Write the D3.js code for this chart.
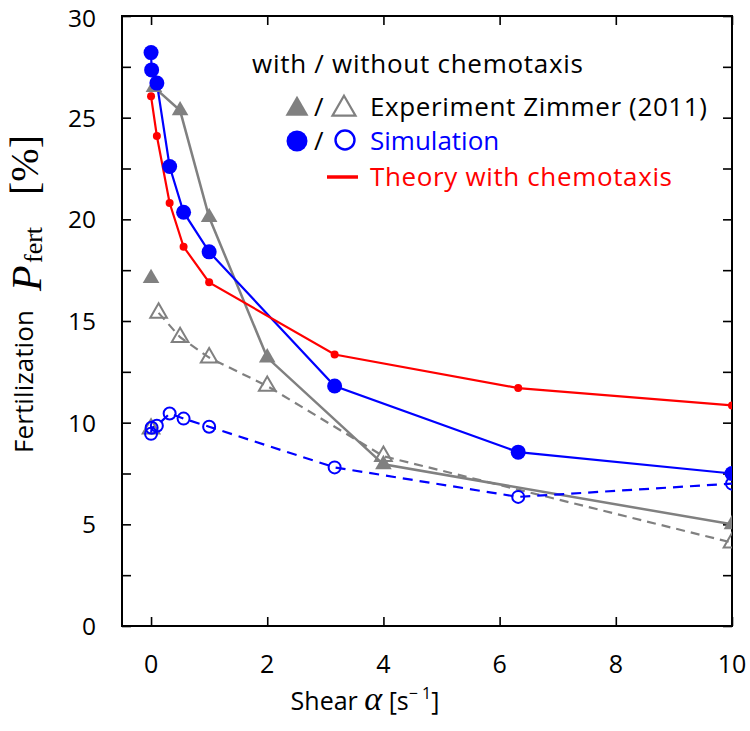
<!DOCTYPE html>
<html><head><meta charset="utf-8">
<script src="https://cdn.jsdelivr.net/npm/d3@7"></script>
<style>body{margin:0;background:#fff}svg{display:block}</style>
</head><body>
<script>
// ---- data ----
const simWithX = [0, 0.01, 0.1, 0.32, 0.56, 1, 3.16, 6.32, 10];
const simWithY = [28.2, 27.35, 26.7, 22.6, 20.35, 18.4, 11.8, 8.55, 7.5];
const simWithoutX = [0, 0.01, 0.1, 0.32, 0.56, 1, 3.16, 6.32, 10];
const simWithoutY = [9.45, 9.75, 9.85, 10.45, 10.2, 9.8, 7.8, 6.35, 7.0];
const expWithX = [0.05, 0.5, 1, 2, 4, 10];
const expWithY = [26.5, 25.35, 20.1, 13.2, 7.95, 5.0];
const expWithoutX = [0.13, 0.5, 1, 2, 4, 10];
const expWithoutY = [15.4, 14.2, 13.2, 11.8, 8.35, 4.1];
const expWithIsoX = [0]; const expWithIsoY = [17.1];
const expWithoutIsoX = [0]; const expWithoutIsoY = [9.7];
const theoryX = [0, 0.1, 0.32, 0.56, 1, 3.16, 6.32, 10];
const theoryY = [26.05, 24.1, 20.8, 18.65, 16.9, 13.35, 11.7, 10.85];
const xTicks = [0, 2, 4, 6, 8, 10];
const yTicks = [0, 2.5, 5, 7.5, 10, 12.5, 15, 17.5, 20, 22.5, 25, 27.5, 30];
const yLabelTicks = [0, 5, 10, 15, 20, 25, 30];

const W = 750, H = 731;
const m = {l:122, t:16, r:18, b:105};
const svg = d3.select("body").append("svg").attr("width", W).attr("height", H);
const x = d3.scaleLinear().domain([-0.5, 10]).range([m.l, W - m.r]);
const y = d3.scaleLinear().domain([0, 30]).range([H - m.b, m.t]);
const font = "'Open Sans', sans-serif";
const serif = "'Liberation Serif', 'DejaVu Serif', serif";
const gray = "#808080", blue = "#0000ff", red = "#ff0000";

svg.append("clipPath").attr("id","clip").append("rect")
  .attr("x", x(-0.5)).attr("y", y(30)-10).attr("width", x(10)-x(-0.5)).attr("height", y(0)-y(30)+10);

// axes (ticks inward, mirrored)
const tl = 9;
const axB = d3.axisBottom(x).tickValues(xTicks).tickSize(-tl).tickFormat("");
const axT = d3.axisTop(x).tickValues(xTicks).tickSize(-tl).tickFormat("");
const axL = d3.axisLeft(y).tickValues(yTicks).tickSize(-tl).tickFormat("");
const axR = d3.axisRight(y).tickValues(yTicks).tickSize(-tl).tickFormat("");
[[axB, `translate(0,${y(0)})`],[axT, `translate(0,${y(30)})`],[axL, `translate(${x(-0.5)},0)`],[axR, `translate(${x(10)},0)`]]
 .forEach(([a,t]) => {
   const g = svg.append("g").attr("transform", t).call(a);
   g.select(".domain").remove();
   g.selectAll("line").attr("stroke","#000").attr("stroke-width",1.6);
 });
svg.append("rect").attr("x", x(-0.5)).attr("y", y(30)).attr("width", x(10)-x(-0.5)).attr("height", y(0)-y(30))
  .attr("fill","none").attr("stroke","#000").attr("stroke-width",2);

// tick labels
svg.append("g").selectAll("text").data(xTicks).join("text")
  .attr("x", d => x(d)).attr("y", y(0) + 47).attr("text-anchor","middle")
  .attr("font-family", font).attr("font-size", 25).text(d => d);
svg.append("g").selectAll("text").data(yLabelTicks).join("text")
  .attr("x", 96).attr("y", d => Math.max(y(d) + 9, 27)).attr("text-anchor","end")
  .attr("font-family", font).attr("font-size", 24.5).text(d => d);

// x axis title
const xt = svg.append("text").attr("x", 365).attr("y", 710).attr("text-anchor","middle")
  .attr("font-family", font).attr("font-size", 25);
xt.append("tspan").text("Shear ");
xt.append("tspan").attr("font-family", serif).attr("font-style","italic").attr("font-size",34).text("α");
xt.append("tspan").text(" [s");
xt.append("tspan").attr("font-size",16).attr("dy",-11).text("− 1");
xt.append("tspan").attr("dy",11).text("]");

// y axis title (rotated group: local x = -page y)
const yg = svg.append("g").attr("transform","rotate(-90)");
yg.append("text").attr("x", -453).attr("y", 33).attr("font-family", font).attr("font-size", 26).attr("textLength",143).text("Fertilization");
yg.append("text").attr("x", -291).attr("y", 41).attr("font-family", serif).attr("font-style","italic").attr("font-size",42).text("P");
yg.append("text").attr("x", -263).attr("y", 42).attr("font-family", serif).attr("font-size",26).text("fert");
yg.append("text").attr("x", -195).attr("y", 38).attr("font-family", serif).attr("font-size",40).text("[%]");

// marks
const plot = svg.append("g").attr("clip-path","url(#clip)");
const zip = (xs, ys) => xs.map((v,i) => [v, ys[i]]);
const line = d3.line().x(d => x(d[0])).y(d => y(d[1]));
const tri = d3.symbol().type(d3.symbolTriangle);

function drawLine(data, color, w, dash){
  plot.append("path").datum(data).attr("d", line).attr("fill","none")
   .attr("stroke", color).attr("stroke-width", w).attr("stroke-dasharray", dash || null);
}
const eWith = zip(expWithX, expWithY), eWithout = zip(expWithoutX, expWithoutY);
const sWith = zip(simWithX, simWithY), sWithout = zip(simWithoutX, simWithoutY);
const th = zip(theoryX, theoryY);

drawLine(eWithout, gray, 2.2, "9,6");
drawLine(eWith, gray, 2.5);
drawLine(sWithout, blue, 2.2, "10,7");
drawLine(sWith, blue, 2.2);
drawLine(th, red, 2.2);

// triangles
plot.append("g").selectAll("path").data(eWithout.concat(zip(expWithoutIsoX, expWithoutIsoY))).join("path")
  .attr("d", tri.size(120)).attr("transform", d => `translate(${x(d[0])},${y(d[1])})`)
  .attr("fill","none").attr("stroke", gray).attr("stroke-width", 2);
plot.append("g").selectAll("path").data(eWith.concat(zip(expWithIsoX, expWithIsoY))).join("path")
  .attr("d", tri.size(120)).attr("transform", d => `translate(${x(d[0])},${y(d[1])})`)
  .attr("fill", gray);
// circles
plot.append("g").selectAll("circle").data(sWithout).join("circle")
  .attr("cx", d => x(d[0])).attr("cy", d => y(d[1])).attr("r", 6)
  .attr("fill","none").attr("stroke", blue).attr("stroke-width", 2);
plot.append("g").selectAll("circle").data(sWith).join("circle")
  .attr("cx", d => x(d[0])).attr("cy", d => y(d[1])).attr("r", 7.5).attr("fill", blue);
plot.append("g").selectAll("circle").data(th).join("circle")
  .attr("cx", d => x(d[0])).attr("cy", d => y(d[1])).attr("r", 4).attr("fill", red);

// legend
const lg = svg.append("g").attr("font-family", font).attr("font-size", 26);
lg.append("text").attr("x", 252).attr("y", 73).attr("textLength",331).text("with / without chemotaxis");
lg.append("path").attr("d", d3.symbol().type(d3.symbolTriangle).size(230)()).attr("transform","translate(297,109)").attr("fill", gray);
lg.append("text").attr("x", 314).attr("y", 116).text("/");
lg.append("path").attr("d", d3.symbol().type(d3.symbolTriangle).size(230)()).attr("transform","translate(344,109)").attr("fill","none").attr("stroke",gray).attr("stroke-width",2.2);
lg.append("text").attr("x", 370).attr("y", 116).attr("textLength",337).text("Experiment Zimmer (2011)");
lg.append("circle").attr("cx",297).attr("cy",141).attr("r",10.5).attr("fill",blue);
lg.append("text").attr("x", 314).attr("y", 150).text("/");
lg.append("circle").attr("cx",345).attr("cy",140).attr("r",9.5).attr("fill","none").attr("stroke",blue).attr("stroke-width",2.4);
lg.append("text").attr("x", 370).attr("y", 150).attr("fill", blue).text("Simulation");
lg.append("line").attr("x1",327).attr("x2",358).attr("y1",177).attr("y2",177).attr("stroke",red).attr("stroke-width",3.5);
lg.append("text").attr("x", 370).attr("y", 186).attr("fill", red).attr("textLength",302).text("Theory with chemotaxis");
</script>
</body></html>
